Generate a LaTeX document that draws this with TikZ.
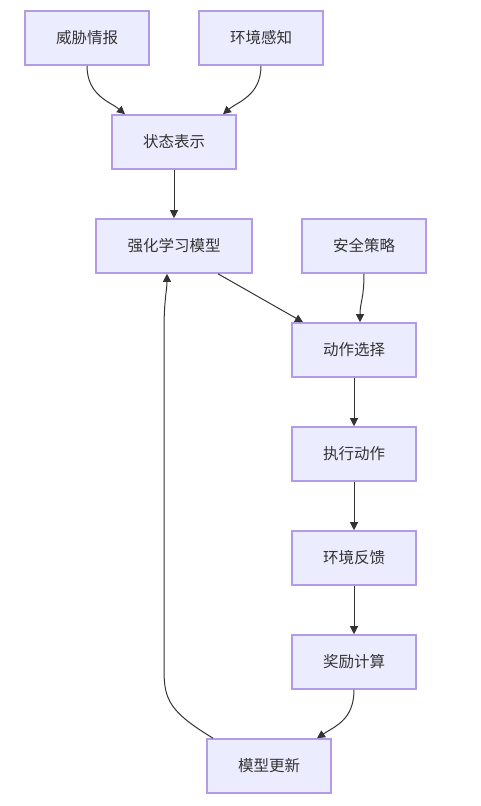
\documentclass[tikz,border=0pt]{standalone}
\usepackage{fontspec}
\newfontfamily\cjk{Noto Sans CJK SC}
\usetikzlibrary{arrows.meta}
\definecolor{nodefill}{HTML}{ECECFF}
\definecolor{nodeline}{HTML}{9370DB}
\definecolor{ink}{HTML}{333333}
\begin{document}
\begin{tikzpicture}[x=1pt,y=-1pt,
  box/.style={draw=nodeline!70,fill=nodefill,line width=1.6pt,minimum height=54pt,inner sep=0pt,text=ink,font=\cjk\fontsize{15.5}{18}\selectfont},
  link/.style={draw=ink,line width=1pt,-{Triangle[length=8pt,width=8pt]}}]
\useasboundingbox (0,0) rectangle (481,806);
\node[box,minimum width=124pt] (a) at (87,38) {威胁情报};
\node[box,minimum width=124pt] (b) at (261,38) {环境感知};
\node[box,minimum width=124pt] (c) at (174,142) {状态表示};
\node[box,minimum width=156pt] (d) at (174,246) {强化学习模型};
\node[box,minimum width=124pt] (e) at (364,246) {安全策略};
\node[box,minimum width=124pt] (f) at (354,350) {动作选择};
\node[box,minimum width=124pt] (g) at (354,454) {执行动作};
\node[box,minimum width=124pt] (h) at (354,558) {环境反馈};
\node[box,minimum width=124pt] (i) at (354,662) {奖励计算};
\node[box,minimum width=124pt] (j) at (269,766) {模型更新};
\draw[link] (a.south) .. controls ++(0,30) and ++(-14,-12) .. ([xshift=-49pt]c.north);
\draw[link] (b.south) .. controls ++(0,30) and ++(14,-12) .. ([xshift=49pt]c.north);
\draw[link] (c) -- (d);
\draw[link] ([xshift=44pt]d.south) -- ([xshift=-51pt]f.north);
\draw[link] (e.south) .. controls ++(0,25) and ++(0,-20) .. ([xshift=6pt]f.north);
\draw[link] (f) -- (g);
\draw[link] (g) -- (h);
\draw[link] (h) -- (i);
\draw[link] (i.south) .. controls ++(0,30) and ++(18,-12) .. ([xshift=48pt]j.north);
\draw[link] ([xshift=-56pt]j.north) .. controls (170,712) and (164,700) .. (164,670) -- (164,330) .. controls (164,300) and (167,290) .. ([xshift=-7pt]d.south);
\end{tikzpicture}
\end{document}
